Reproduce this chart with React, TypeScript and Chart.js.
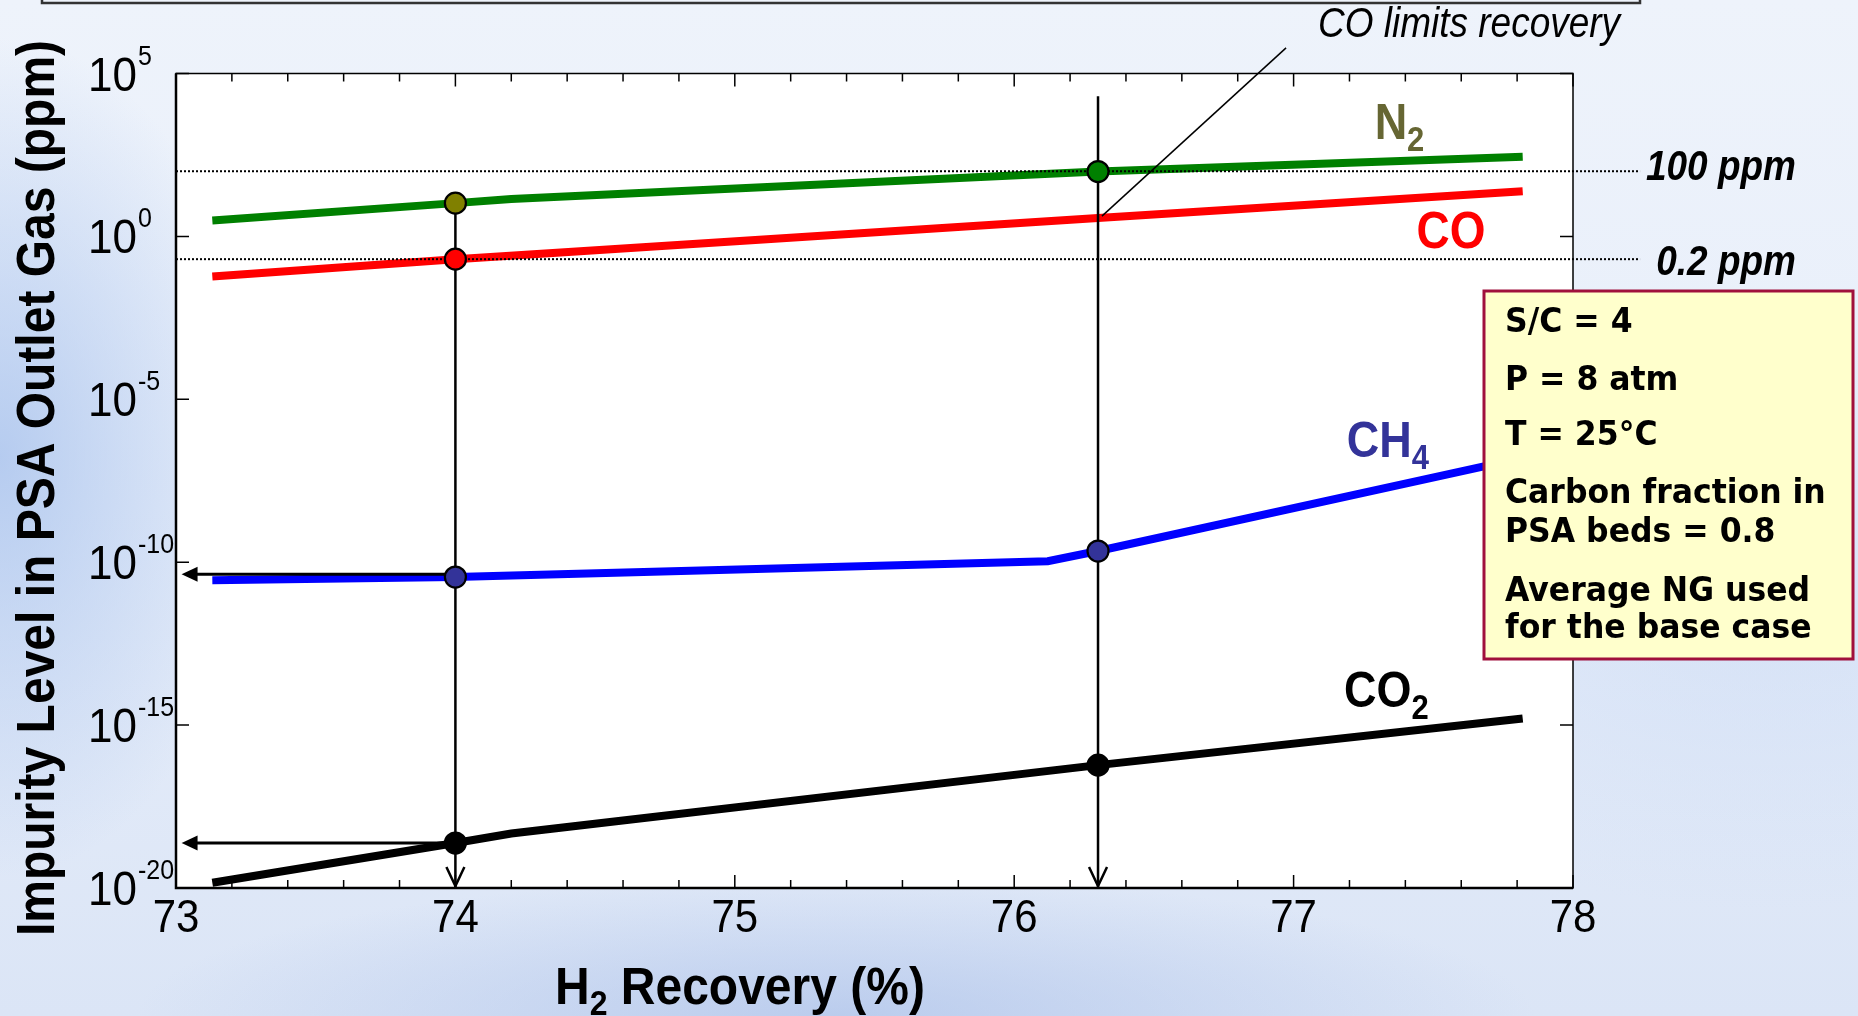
import React, { useEffect, useRef } from 'react';
import { Chart, registerables } from 'chart.js';

Chart.register(...registerables);

// ---------- data ----------
const xTickValues = [73, 74, 75, 76, 77, 78];
const yTickExponents = [5, 0, -5, -10, -15, -20];

const n2Recovery = [73.13, 74.0, 74.2, 76.3, 77.82];
const n2Ppm = [3.1, 10.5, 14, 98, 280];

const coRecovery = [73.13, 74.0, 76.3, 77.82];
const coPpm = [0.059, 0.2, 3.7, 24.5];

const ch4Recovery = [73.13, 74.0, 76.12, 76.3, 77.82];
const ch4Ppm = [2.8e-11, 3.5e-11, 1.07e-10, 2.2e-10, 1.6e-7];

const co2Recovery = [73.13, 74.0, 74.2, 76.3, 77.82];
const co2Ppm = [1.45e-20, 2.4e-19, 4.7e-19, 5.9e-17, 1.6e-15];

// operating points (markers)
const operatingRecovery = [74.0, 76.3];
const n2Markers = [10.5, 98];
const n2MarkerColors = ['#808000', '#008000'];
const coMarkers = [0.2];
const ch4Markers = [3.5e-11, 2.2e-10];
const co2Markers = [2.4e-19, 5.9e-17];

// read-off arrows (to the y axis)
const arrowLevels = [4.3e-11, 2.4e-19];
const arrowTipRecovery = 73.02;

// guide lines
const guideTop74 = 10.5;
const guideTop763 = 2e4;

// limit lines
const limitPpm = [100, 0.2];
const limitLabels = ['100 ppm', '0.2 ppm'];
const limitLineEnd = 78.24;

const conditions = [
  'S/C = 4',
  'P = 8 atm',
  'T = 25°C',
  'Carbon fraction in',
  'PSA beds = 0.8',
  'Average NG used',
  'for the base case',
];

const SANS = '"Liberation Sans", Arial, sans-serif';
const VERD = '"DejaVu Sans", Verdana, sans-serif';

const pts = (xs: number[], ys: number[]) => xs.map((x, i) => ({ x, y: ys[i] }));

function fillStretched(ctx: CanvasRenderingContext2D, t: string, x: number, y: number, sy: number) {
  ctx.save();
  ctx.translate(x, y);
  ctx.scale(1, sy);
  ctx.fillText(t, 0, 0);
  ctx.restore();
}

type Part = { t: string; size: number; dy: number };
function drawParts(ctx: CanvasRenderingContext2D, parts: Part[], x: number, y: number, weight: string, color: string, sy = 1.1, style = 'normal') {
  let cx = x;
  ctx.fillStyle = color;
  ctx.textAlign = 'left';
  ctx.textBaseline = 'alphabetic';
  for (const p of parts) {
    ctx.font = `${style} ${weight} ${p.size}px ${SANS}`;
    fillStretched(ctx, p.t, cx, y + p.dy, sy);
    cx += ctx.measureText(p.t).width;
  }
  return cx - x;
}

const decor = {
  id: 'decor',
  beforeDraw(chart: any) {
    const { ctx, chartArea: a } = chart;
    ctx.save();
    ctx.fillStyle = '#ffffff';
    ctx.fillRect(a.left, a.top, a.right - a.left, a.bottom - a.top);
    ctx.restore();
  },
  afterDatasetsDraw(chart: any) {
    const { ctx } = chart;
    const xs = chart.scales.x;
    const ys = chart.scales.y;
    ctx.save();
    ctx.fillStyle = '#000';
    ctx.strokeStyle = '#000';
    // left filled arrowheads
    arrowLevels.forEach((v) => {
      const tx = xs.getPixelForValue(arrowTipRecovery);
      const ty = ys.getPixelForValue(v);
      ctx.beginPath();
      ctx.moveTo(tx, ty);
      ctx.lineTo(tx + 16, ty - 7.5);
      ctx.lineTo(tx + 16, ty + 7.5);
      ctx.closePath();
      ctx.fill();
    });
    // open V arrowheads at bottom
    operatingRecovery.forEach((r) => {
      const tx = xs.getPixelForValue(r);
      const ty = ys.getPixelForValue(1e-20) - 2;
      ctx.lineWidth = 2.5;
      ctx.beginPath();
      ctx.moveTo(tx - 9, ty - 19);
      ctx.lineTo(tx, ty);
      ctx.lineTo(tx + 9, ty - 19);
      ctx.stroke();
    });
    ctx.restore();
  },
  afterDraw(chart: any) {
    const { ctx, chartArea: a } = chart;
    const xs = chart.scales.x;
    const ys = chart.scales.y;
    ctx.save();

    // title box remnant at very top
    ctx.strokeStyle = '#333';
    ctx.lineWidth = 2.5;
    ctx.beginPath();
    ctx.moveTo(42, -5);
    ctx.lineTo(42, 3);
    ctx.lineTo(1640, 3);
    ctx.lineTo(1640, -5);
    ctx.stroke();

    // frame
    ctx.strokeStyle = '#000';
    ctx.lineWidth = 1.5;
    ctx.strokeRect(a.left, a.top, a.right - a.left, a.bottom - a.top);
    ctx.lineWidth = 2.5;
    ctx.beginPath();
    ctx.moveTo(a.left, a.top);
    ctx.lineTo(a.left, a.bottom);
    ctx.lineTo(a.right, a.bottom);
    ctx.stroke();

    // x ticks (inward, top and bottom)
    ctx.lineWidth = 1.5;
    for (let i = 0; i <= 25; i++) {
      const v = 73 + i * 0.2;
      const px = xs.getPixelForValue(v);
      const major = i % 5 === 0;
      const len = major ? 13 : 8;
      ctx.beginPath();
      ctx.moveTo(px, a.bottom);
      ctx.lineTo(px, a.bottom - len);
      ctx.moveTo(px, a.top);
      ctx.lineTo(px, a.top + len);
      ctx.stroke();
    }
    // y ticks
    yTickExponents.forEach((e) => {
      const py = ys.getPixelForValue(Math.pow(10, e));
      ctx.beginPath();
      ctx.moveTo(a.left, py);
      ctx.lineTo(a.left + 13, py);
      ctx.moveTo(a.right, py);
      ctx.lineTo(a.right - 13, py);
      ctx.stroke();
    });

    // x tick labels
    ctx.fillStyle = '#000';
    ctx.font = `normal 42px ${SANS}`;
    ctx.textAlign = 'center';
    ctx.textBaseline = 'alphabetic';
    xTickValues.forEach((v) => {
      fillStretched(ctx, String(v), xs.getPixelForValue(v), a.bottom + 44, 1.1);
    });
    // y tick labels 10^n
    yTickExponents.forEach((e) => {
      const py = ys.getPixelForValue(Math.pow(10, e));
      ctx.textAlign = 'left';
      ctx.font = `normal 44px ${SANS}`;
      fillStretched(ctx, '10', 88, py + 17, 1.1);
      const w = ctx.measureText('10').width;
      ctx.font = `normal 25px ${SANS}`;
      fillStretched(ctx, e < 0 ? '-' + Math.abs(e) : String(e), 88 + w + 1, py - 9, 1.1);
    });

    // axis titles
    ctx.save();
    ctx.translate(54, 488);
    ctx.rotate(-Math.PI / 2);
    ctx.textAlign = 'center';
    ctx.font = `bold 48px ${SANS}`;
    ctx.scale(1, 1.1);
    ctx.fillText('Impurity Level in PSA Outlet Gas (ppm)', 0, 0);
    ctx.restore();
    drawParts(ctx, [
      { t: 'H', size: 48, dy: 0 },
      { t: '2', size: 32, dy: 11 },
      { t: ' Recovery (%)', size: 48, dy: 0 },
    ], 555, 1004, 'bold', '#000', 1.08);

    // limit labels
    limitPpm.forEach((v, i) => {
      const py = ys.getPixelForValue(v);
      ctx.font = `italic bold 37px ${SANS}`;
      ctx.textAlign = 'right';
      ctx.fillStyle = '#000';
      fillStretched(ctx, limitLabels[i], 1796, py + (i === 0 ? 9 : 16), 1.15);
    });

    // series labels
    drawParts(ctx, [{ t: 'N', size: 45, dy: 0 }, { t: '2', size: 31, dy: 12 }],
      xs.getPixelForValue(77.29), ys.getPixelForValue(1000), 'bold', '#666633', 1.12);
    drawParts(ctx, [{ t: 'CO', size: 46, dy: 0 }],
      xs.getPixelForValue(77.44), ys.getPixelForValue(0.45), 'bold', '#ff0000', 1.12);
    drawParts(ctx, [{ t: 'CH', size: 45, dy: 0 }, { t: '4', size: 31, dy: 12 }],
      xs.getPixelForValue(77.19), ys.getPixelForValue(1.66e-7), 'bold', '#333399', 1.12);
    drawParts(ctx, [{ t: 'CO', size: 45, dy: 0 }, { t: '2', size: 31, dy: 12 }],
      xs.getPixelForValue(77.18), ys.getPixelForValue(3.5e-15), 'bold', '#000000', 1.12);

    // "CO limits recovery" callout
    ctx.strokeStyle = '#000';
    ctx.lineWidth = 1.5;
    ctx.beginPath();
    ctx.moveTo(xs.getPixelForValue(76.314), ys.getPixelForValue(4.2));
    ctx.lineTo(xs.getPixelForValue(76.973), ys.getPixelForValue(6.1e5));
    ctx.stroke();
    ctx.font = `italic normal 37px ${SANS}`;
    ctx.textAlign = 'left';
    ctx.fillStyle = '#000';
    fillStretched(ctx, 'CO limits recovery', xs.getPixelForValue(77.087), ys.getPixelForValue(1.35e6), 1.15);

    // conditions box
    const bx = 1484, by = 291, bw = 369, bh = 368;
    ctx.fillStyle = '#ffffcc';
    ctx.fillRect(bx, by, bw, bh);
    ctx.strokeStyle = '#a0103c';
    ctx.lineWidth = 3;
    ctx.strokeRect(bx, by, bw, bh);
    ctx.fillStyle = '#000';
    ctx.font = `bold 31.5px ${VERD}`;
    ctx.textAlign = 'left';
    const offs = [41, 99, 154, 212, 251, 310, 347];
    conditions.forEach((t, i) => fillStretched(ctx, t, bx + 21, by + offs[i], 1.05));

    ctx.restore();
  },
};

export default function App() {
  const ref = useRef<HTMLCanvasElement>(null);
  useEffect(() => {
    document.body.style.margin = '0';
    const canvas = ref.current;
    if (!canvas) return;
    const lineDs = (label: string, xs: number[], ys: number[], color: string) => ({
      type: 'line' as const,
      label,
      data: pts(xs, ys),
      borderColor: color,
      borderWidth: 8,
      pointRadius: 0,
      tension: 0,
      order: 10,
    });
    const markerDs = (label: string, xs: number[], ys: number[], color: string | string[]) => ({
      type: 'scatter' as const,
      label,
      data: pts(xs, ys),
      showLine: false,
      pointRadius: 10.5,
      pointHoverRadius: 10.5,
      pointBorderWidth: 2.2,
      pointBorderColor: '#000',
      pointBackgroundColor: color,
      backgroundColor: color,
      borderColor: '#000',
      order: 1,
      clip: false,
    });
    const guideDs = (label: string, data: { x: number; y: number }[], width: number, dash: number[] = [], order = 6) => ({
      type: 'line' as const,
      label,
      data,
      borderColor: '#000',
      borderWidth: width,
      borderDash: dash,
      pointRadius: 0,
      tension: 0,
      order,
      clip: false,
    });

    const chart = new Chart(canvas, {
      type: 'line',
      data: {
        datasets: [
          lineDs('N2', n2Recovery, n2Ppm, '#008000'),
          lineDs('CO', coRecovery, coPpm, '#ff0000'),
          lineDs('CH4', ch4Recovery, ch4Ppm, '#0000ff'),
          lineDs('CO2', co2Recovery, co2Ppm, '#000000'),
          ...limitPpm.map((v, i) =>
            guideDs(limitLabels[i], [{ x: 73, y: v }, { x: limitLineEnd, y: v }], 2, [2, 2], 8)
          ),
          guideDs('guide74', [{ x: operatingRecovery[0], y: guideTop74 }, { x: operatingRecovery[0], y: 1e-20 }], 2.5),
          guideDs('guide763', [{ x: operatingRecovery[1], y: guideTop763 }, { x: operatingRecovery[1], y: 1e-20 }], 2.5),
          ...arrowLevels.map((v, i) =>
            guideDs('arrow' + i, [{ x: operatingRecovery[0], y: v }, { x: arrowTipRecovery + 0.03, y: v }], 3)
          ),
          markerDs('N2 pts', operatingRecovery, n2Markers, n2MarkerColors),
          markerDs('CO pts', operatingRecovery.slice(0, 1), coMarkers, '#ff0000'),
          markerDs('CH4 pts', operatingRecovery, ch4Markers, '#333399'),
          markerDs('CO2 pts', operatingRecovery, co2Markers, '#000000'),
        ] as any,
      },
      options: {
        animation: false,
        responsive: false,
        maintainAspectRatio: false,
        events: [],
        layout: { padding: { left: 176, top: 73.5, right: 285, bottom: 128 } },
        plugins: { legend: { display: false }, tooltip: { enabled: false } },
        scales: {
          x: { type: 'linear', min: 73, max: 78, display: false },
          y: { type: 'logarithmic', min: 1e-20, max: 1e5, display: false },
        },
      },
      plugins: [decor],
    });
    return () => chart.destroy();
  }, []);

  return (
    <div
      style={{
        position: 'fixed',
        left: 0,
        top: 0,
        width: 1858,
        height: 1016,
        overflow: 'hidden',
        background:
          'radial-gradient(ellipse 260px 420px at 0% 45%, rgba(165,192,236,0.75), rgba(165,192,236,0) 100%),' +
          'radial-gradient(ellipse 700px 140px at 45% 100%, rgba(160,184,230,0.55), rgba(160,184,230,0) 100%),' +
          'radial-gradient(ellipse 500px 300px at 95% 60%, rgba(205,220,245,0.6), rgba(205,220,245,0) 100%),' +
          'linear-gradient(180deg, #eef3fb 0%, #e7eefa 50%, #dbe5f6 100%)',
      }}
    >
      <canvas ref={ref} width={1858} height={1016} style={{ display: 'block' }} />
    </div>
  );
}
